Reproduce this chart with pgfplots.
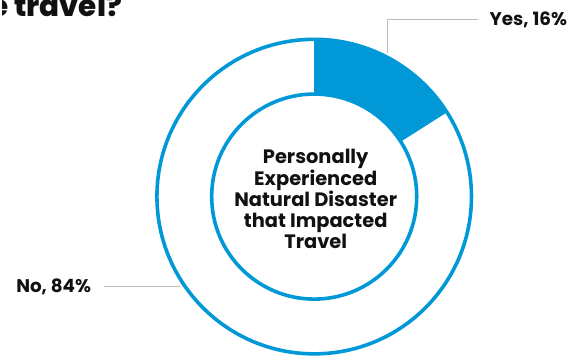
\documentclass[border=0pt]{standalone}
\usepackage{pgfplots}
\pgfplotsset{compat=1.18}
\usepackage{pgfplotstable}
\usepackage{fontspec}
\setmainfont{Poppins}[BoldFont=Poppins Bold]
\newfontfamily\titlefont{Poppins ExtraBold}
\usetikzlibrary{calc}
\definecolor{pieblue}{HTML}{0098D6}
\definecolor{leader}{HTML}{BDBDBD}
\definecolor{txt}{HTML}{111111}
\pgfplotstableread{
label value
Yes 16
No 84
}\piedata
\begin{document}
\pgfplotstablegetelem{0}{value}\of\piedata
\pgfmathsetmacro{\endang}{90-3.6*\pgfplotsretval}
\begin{tikzpicture}
\clip (0,0) rectangle (572bp,358bp);
\begin{axis}[
  at={(0,0)}, anchor=south west,
  scale only axis, width=572bp, height=358bp,
  xmin=0, xmax=572, ymin=0, ymax=358,
  hide axis, clip=false,
]
% wedge (Yes)
\fill[pieblue] ($(axis cs:313,160.5)+(90:158bp)$)
  arc[start angle=90, end angle=\endang, radius=158bp]
  -- ($(axis cs:313,160.5)+(\endang:103bp)$)
  arc[start angle=\endang, end angle=90, radius=103bp] -- cycle;
% ring outlines
\draw[pieblue, line width=3.6bp] (axis cs:313,160.5) circle[radius=158bp];
\draw[pieblue, line width=3.6bp] (axis cs:313,160.5) circle[radius=103bp];
% leader lines
\draw[leader, line width=1.1bp] (axis cs:387,305) -- (axis cs:387,338) -- (axis cs:478,338);
\draw[leader, line width=1.1bp] (axis cs:102,70) -- (axis cs:178,70);
% labels
\node[anchor=west, inner sep=0pt, text=txt, font=\fontsize{18.4bp}{21bp}\selectfont\bfseries] at (axis cs:489,338) {Yes, 16\%};
\node[anchor=east, inner sep=0pt, text=txt, font=\fontsize{18.4bp}{21bp}\selectfont\bfseries] at (axis cs:89,70) {No, 84\%};
% center text
\node[align=center, inner sep=0pt, text=txt, font=\fontsize{19.5bp}{21.2bp}\selectfont\bfseries] at (axis cs:314.5,158) {Personally\\Experienced\\Natural Disaster\\that Impacted\\Travel};
% title (cut off)
\node[anchor=base east, inner sep=0pt, text=txt, font=\fontsize{29.5bp}{32bp}\selectfont\titlefont] at (axis cs:120,341) {e travel?};
\end{axis}
\end{tikzpicture}
\end{document}
